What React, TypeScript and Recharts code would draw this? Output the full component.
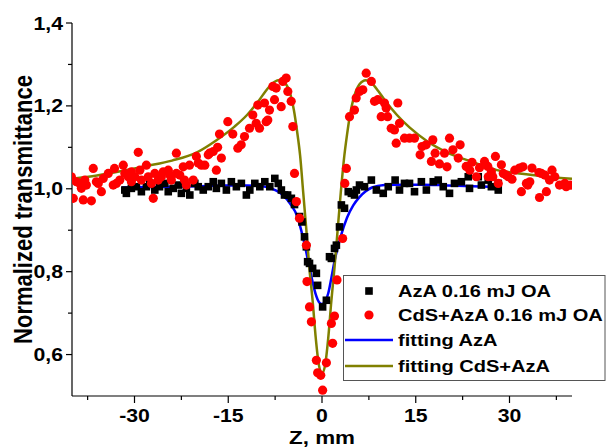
import React from 'react';
import { ComposedChart, XAxis, YAxis, Scatter, Line, Legend, Label } from 'recharts';

const FONT = '"Liberation Sans", Arial, sans-serif';
const SX = 1.18;

const xTicks = [-37.5, -30, -22.5, -15, -7.5, 0, 7.5, 15, 22.5, 30, 37.5];
const xMajor = [-30, -15, 0, 15, 30];
const yTicks = [0.6, 0.7, 0.8, 0.9, 1.0, 1.1, 1.2, 1.3, 1.4];
const yMajor = [0.6, 0.8, 1.0, 1.2, 1.4];

const seriesNames = ['AzA 0.16 mJ OA', 'CdS+AzA 0.16 mJ OA', 'fitting AzA', 'fitting CdS+AzA'];

// AzA 0.16 mJ OA (black squares): [z, T]
const azaPoints: [number, number][] = [
  [-31.55, 0.997], [-31.3, 0.989], [-30.5, 1.001], [-29.7, 1.005], [-28.9, 0.993], [-28.1, 1.005],
  [-27.55, 1.013], [-26.75, 0.997], [-26.0, 1.005], [-25.15, 1.013], [-24.6, 0.993], [-23.8, 1.001],
  [-23.0, 1.009], [-22.5, 0.989], [-21.7, 1.001], [-21.15, 0.985], [-20.35, 1.013], [-19.8, 1.005],
  [-19.0, 0.997], [-18.2, 1.005], [-17.4, 1.017], [-16.9, 1.001], [-16.1, 1.013], [-15.3, 0.997],
  [-14.5, 1.017], [-13.7, 1.005], [-12.9, 1.013], [-12.1, 0.985], [-11.55, 0.997], [-10.75, 1.013],
  [-9.95, 1.005], [-9.15, 1.017], [-8.35, 1.005], [-7.55, 1.025], [-7.0, 1.013], [-6.5, 0.997],
  [-6.0, 0.985], [-5.5, 0.985], [-4.9, 0.977], [-4.4, 0.962], [-3.6, 0.933], [-3.2, 0.92],
  [-2.8, 0.884], [-2.5, 0.86], [-2.3, 0.824], [-2.0, 0.82], [-1.5, 0.808], [-0.9, 0.796],
  [-0.7, 0.767], [0.1, 0.715], [0.7, 0.731], [1.2, 0.836], [1.5, 0.832], [2.0, 0.856],
  [2.3, 0.864], [2.8, 0.908], [3.1, 0.961], [3.6, 0.953], [4.2, 0.993], [4.7, 0.989],
  [5.2, 0.985], [5.5, 0.997], [6.0, 1.009], [6.8, 1.005], [7.9, 1.021], [8.7, 0.997],
  [9.8, 0.989], [10.6, 1.005], [11.7, 1.021], [12.4, 0.997], [13.2, 1.013], [14.0, 1.013],
  [14.8, 0.993], [15.9, 1.017], [16.7, 0.997], [17.8, 1.017], [18.6, 1.021], [19.4, 1.005],
  [20.4, 0.989], [21.2, 1.013], [22.3, 1.017], [23.4, 1.029], [23.6, 1.001], [25.0, 1.029],
  [25.5, 1.009], [26.6, 1.021], [27.1, 1.005], [28.2, 0.997], [28.2, 1.013],
];

// CdS+AzA 0.16 mJ OA (red circles): [z, T]
const cdsPoints: [number, number][] = [
  [-40.1, 1.029], [-39.8, 0.977], [-39.3, 1.017], [-38.75, 1.013], [-38.5, 1.001], [-38.2, 0.973],
  [-37.95, 1.021], [-37.7, 1.009], [-36.9, 0.971], [-36.6, 1.049], [-36.1, 1.017], [-35.8, 1.013],
  [-35.3, 0.993], [-35.0, 1.025], [-34.2, 1.037], [-33.4, 1.009], [-33.2, 1.049], [-32.9, 1.013],
  [-32.35, 1.021], [-31.8, 1.057], [-31.55, 1.037], [-31.0, 1.029], [-30.5, 1.041], [-30.5, 1.017],
  [-29.95, 1.029], [-29.4, 1.088], [-29.15, 1.045], [-28.9, 1.021], [-28.1, 1.057], [-27.8, 1.029],
  [-27.3, 1.013], [-27.0, 0.977], [-26.75, 1.037], [-26.2, 1.021], [-25.7, 1.029], [-25.4, 1.041],
  [-24.6, 1.045], [-24.35, 1.033], [-24.1, 1.021], [-23.3, 1.086], [-23.3, 1.037], [-22.75, 1.033],
  [-22.2, 1.053], [-22.0, 1.021], [-21.7, 1.009], [-21.2, 1.057], [-20.6, 1.021], [-20.1, 1.078],
  [-19.8, 1.062], [-19.3, 1.057], [-18.75, 1.057], [-18.2, 1.082], [-18.0, 1.086], [-17.4, 1.09],
  [-16.9, 1.045], [-16.7, 1.1], [-16.4, 1.132], [-16.1, 1.074], [-15.07, 1.162], [-14.27, 1.132],
  [-13.47, 1.098], [-12.93, 1.106], [-12.4, 1.126], [-11.6, 1.146], [-11.07, 1.178], [-10.53, 1.158],
  [-10.27, 1.202], [-10.0, 1.146], [-9.2, 1.207], [-8.93, 1.162], [-8.67, 1.166], [-8.4, 1.19],
  [-7.87, 1.247], [-7.6, 1.215], [-7.33, 1.243], [-6.53, 1.198], [-6.27, 1.259], [-5.73, 1.267],
  [-5.47, 1.235], [-4.93, 1.211], [-4.67, 1.15], [-4.4, 1.037], [-4.1, 0.969], [-3.6, 0.929],
  [-2.5, 0.864], [-2.4, 0.776], [-2.0, 0.715], [-1.7, 0.679], [-0.9, 0.586], [-0.7, 0.556],
  [-0.2, 0.55], [0.1, 0.514], [0.7, 0.58], [1.5, 0.675], [1.7, 0.627], [2.0, 0.693],
  [2.4, 0.78], [3.3, 0.88], [3.65, 1.013], [3.9, 1.049], [4.4, 1.174], [5.2, 1.19],
  [5.47, 1.219], [6.0, 1.235], [6.53, 1.239], [7.07, 1.279], [7.9, 1.259], [8.4, 1.211],
  [8.93, 1.215], [9.47, 1.174], [10.0, 1.207], [10.27, 1.195], [10.5, 1.174], [11.07, 1.146],
  [11.6, 1.142], [11.87, 1.11], [12.13, 1.207], [12.4, 1.158], [13.2, 1.122], [14.0, 1.122],
  [14.8, 1.122], [15.7, 1.082], [16.0, 1.102], [16.67, 1.106], [17.5, 1.066], [17.73, 1.118],
  [18.1, 1.086], [18.8, 1.06], [19.6, 1.086], [20.0, 1.053], [20.4, 1.122], [20.95, 1.094],
  [21.8, 1.074], [22.1, 1.106], [23.07, 1.054], [23.65, 1.045], [24.0, 1.064], [24.7, 1.029],
  [25.2, 1.051], [26.0, 1.066], [26.53, 1.054], [26.6, 1.029], [27.1, 1.041], [27.33, 1.029],
  [27.75, 1.078], [28.2, 1.013], [28.7, 1.058], [29.0, 1.037], [29.47, 1.033], [29.8, 1.029],
  [30.4, 1.023], [30.85, 1.045], [31.6, 1.05], [31.9, 0.993], [32.15, 1.053], [32.7, 1.013],
  [32.93, 1.009], [33.25, 1.017], [33.6, 1.05], [34.7, 1.039], [34.8, 0.979], [35.1, 1.037],
  [35.65, 1.033], [35.9, 0.993], [36.4, 1.021], [36.8, 1.045], [37.25, 1.029], [38.0, 1.009],
  [38.85, 1.013], [39.07, 1.005], [39.75, 1.009],
];

// fitting AzA (blue line): [z, T]
const fitAzaPoints: [number, number][] = [
  [-32, 1.003], [-28, 1.004], [-24, 1.005], [-20, 1.006], [-16, 1.008], [-12, 1.008], [-10, 1.007],
  [-8, 1.0], [-7, 0.993], [-6, 0.981], [-5, 0.962], [-4, 0.935], [-3, 0.88], [-2, 0.81],
  [-1.5, 0.775], [-1, 0.745], [-0.5, 0.727], [0, 0.722], [0.5, 0.728], [1, 0.748], [1.5, 0.785],
  [2, 0.825], [3, 0.885], [4, 0.93], [5, 0.96], [6, 0.98], [7, 0.994], [8, 1.003], [10, 1.009],
  [12, 1.01], [16, 1.01], [20, 1.008], [24, 1.006], [28.4, 1.004],
];

// fitting CdS+AzA (olive line): [z, T]
const fitCdsPoints: [number, number][] = [
  [-40, 1.024], [-36, 1.032], [-32, 1.043], [-28, 1.055], [-24, 1.068], [-20, 1.088], [-17, 1.116],
  [-14, 1.15], [-12, 1.178], [-10, 1.215], [-9, 1.236], [-8, 1.253], [-7, 1.262], [-6, 1.256],
  [-5, 1.225], [-4.5, 1.19], [-4, 1.14], [-3.5, 1.08], [-3, 0.99], [-2.5, 0.9], [-2, 0.805],
  [-1.5, 0.73], [-1, 0.64], [-0.5, 0.575], [0, 0.555], [0.5, 0.575], [1, 0.64], [1.5, 0.73],
  [2, 0.81], [2.5, 0.9], [3, 0.99], [3.5, 1.07], [4, 1.13], [4.5, 1.18], [5, 1.215], [6, 1.252],
  [7, 1.262], [8, 1.254], [9, 1.236], [10, 1.215], [12, 1.178], [14, 1.148], [17, 1.113],
  [20, 1.088], [24, 1.065], [28, 1.045], [32, 1.036], [36, 1.029], [40, 1.024],
];

const toData = (arr: [number, number][]) => arr.map(([z, t]) => ({ z, t }));
const azaData = toData(azaPoints);
const cdsData = toData(cdsPoints);
const fitAzaData = toData(fitAzaPoints);
const fitCdsData = toData(fitCdsPoints);

const isIn = (list: number[], v: number) => list.some((m) => Math.abs(m - v) < 1e-6);

const XTick = (props: any) => {
  const { x, y, payload } = props;
  const v = payload.value;
  const major = isIn(xMajor, v);
  return (
    <g>
      <line x1={x} x2={x} y1={y} y2={y + (major ? 7 : 4)} stroke="#000" strokeWidth={1.2} />
      {major && (
        <text transform={`translate(${x},${y + 26}) scale(${SX},1)`} textAnchor="middle"
          fontFamily={FONT} fontWeight="bold" fontSize={18} fill="#000">{String(v)}</text>
      )}
    </g>
  );
};

const YTick = (props: any) => {
  const { x, y, payload } = props;
  const v = payload.value;
  const major = isIn(yMajor, v);
  return (
    <g>
      <line x1={x - (major ? 6 : 4)} x2={x} y1={y} y2={y} stroke="#000" strokeWidth={1.2} />
      {major && (
        <text transform={`translate(${x - 9},${y + 6.5}) scale(${SX},1)`} textAnchor="end"
          fontFamily={FONT} fontWeight="bold" fontSize={18} fill="#000">{v.toFixed(1).replace('.', ',')}</text>
      )}
    </g>
  );
};

const Square = (p: any) => <rect x={p.cx - 3.8} y={p.cy - 3.8} width={7.6} height={7.6} fill="#000" />;
const Dot = (p: any) => <circle cx={p.cx} cy={p.cy} r={4.6} fill="#ff0000" />;

const LegendBox = () => {
  const rows = [16, 40, 65, 91];
  return (
    <svg width={263} height={106} style={{ display: 'block' }}>
      <rect x={0.5} y={0.5} width={261.5} height={105} fill="#fff" stroke="#555" strokeWidth={1} />
      <rect x={26 - 3.8} y={rows[0] - 3.8} width={7.6} height={7.6} fill="#000" />
      <circle cx={26} cy={rows[1]} r={4.6} fill="#ff0000" />
      <line x1={2} x2={50} y1={rows[2]} y2={rows[2]} stroke="#0000ff" strokeWidth={2.5} />
      <line x1={2} x2={50} y1={rows[3]} y2={rows[3]} stroke="#808000" strokeWidth={2.5} />
      {seriesNames.map((n, i) => (
        <text key={n} transform={`translate(55,${rows[i] + 6.2}) scale(${SX},1)`} fontFamily={FONT}
          fontWeight="bold" fontSize={17} fill="#000">{n}</text>
      ))}
    </svg>
  );
};

const YTitle = (props: any) => {
  const vb = props.viewBox || { x: 12, y: 23, width: 60, height: 373 };
  const cy = vb.y + vb.height / 2;
  return (
    <text transform={`translate(${vb.x + 20},${cy}) scale(${SX},1) rotate(-90)`} textAnchor="middle"
      fontFamily={FONT} fontWeight="bold" fontSize={22} fill="#000">Normalized transmittance</text>
  );
};

const XTitle = (props: any) => {
  const vb = props.viewBox || { x: 72, y: 396, width: 500, height: 30 };
  const cx = vb.x + vb.width / 2;
  return (
    <text transform={`translate(${cx},444) scale(${SX},1)`} textAnchor="middle"
      fontFamily={FONT} fontWeight="bold" fontSize={19} fill="#000">Z, mm</text>
  );
};

export default function App() {
  return (
    <div style={{ position: 'absolute', left: 0, top: 0, width: 606, height: 448, background: '#fff' }}>
      <ComposedChart width={606} height={448} margin={{ top: 23, right: 34, bottom: 22, left: 12 }}>
        <XAxis dataKey="z" type="number" domain={[-40, 40]} ticks={xTicks} allowDataOverflow
          height={30} tickSize={0} tickMargin={0} tickLine={false} tick={<XTick />}
          axisLine={{ stroke: '#000', strokeWidth: 1.2 }} interval={0}>
          <Label content={<XTitle />} />
        </XAxis>
        <YAxis dataKey="t" type="number" domain={[0.5, 1.4]} ticks={yTicks} allowDataOverflow
          width={60} tickSize={0} tickMargin={0} tickLine={false} tick={<YTick />}
          axisLine={{ stroke: '#000', strokeWidth: 1.2 }} interval={0}>
          <Label content={<YTitle />} />
        </YAxis>
        <Scatter name={seriesNames[0]} data={azaData} dataKey="t" shape={Square} isAnimationActive={false} />
        <Scatter name={seriesNames[1]} data={cdsData} dataKey="t" shape={Dot} isAnimationActive={false} />
        <Line name={seriesNames[2]} data={fitAzaData} dataKey="t" type="monotone" stroke="#0000ff"
          strokeWidth={2.5} dot={false} activeDot={false} isAnimationActive={false} />
        <Line name={seriesNames[3]} data={fitCdsData} dataKey="t" type="monotone" stroke="#808000"
          strokeWidth={2.5} dot={false} activeDot={false} isAnimationActive={false} />
        <Legend layout="vertical" align="center" verticalAlign="middle" content={() => <LegendBox />}
          wrapperStyle={{ position: 'absolute', left: 343, top: 275, width: 263, height: 106, margin: 0, padding: 0 }} />
      </ComposedChart>
    </div>
  );
}
